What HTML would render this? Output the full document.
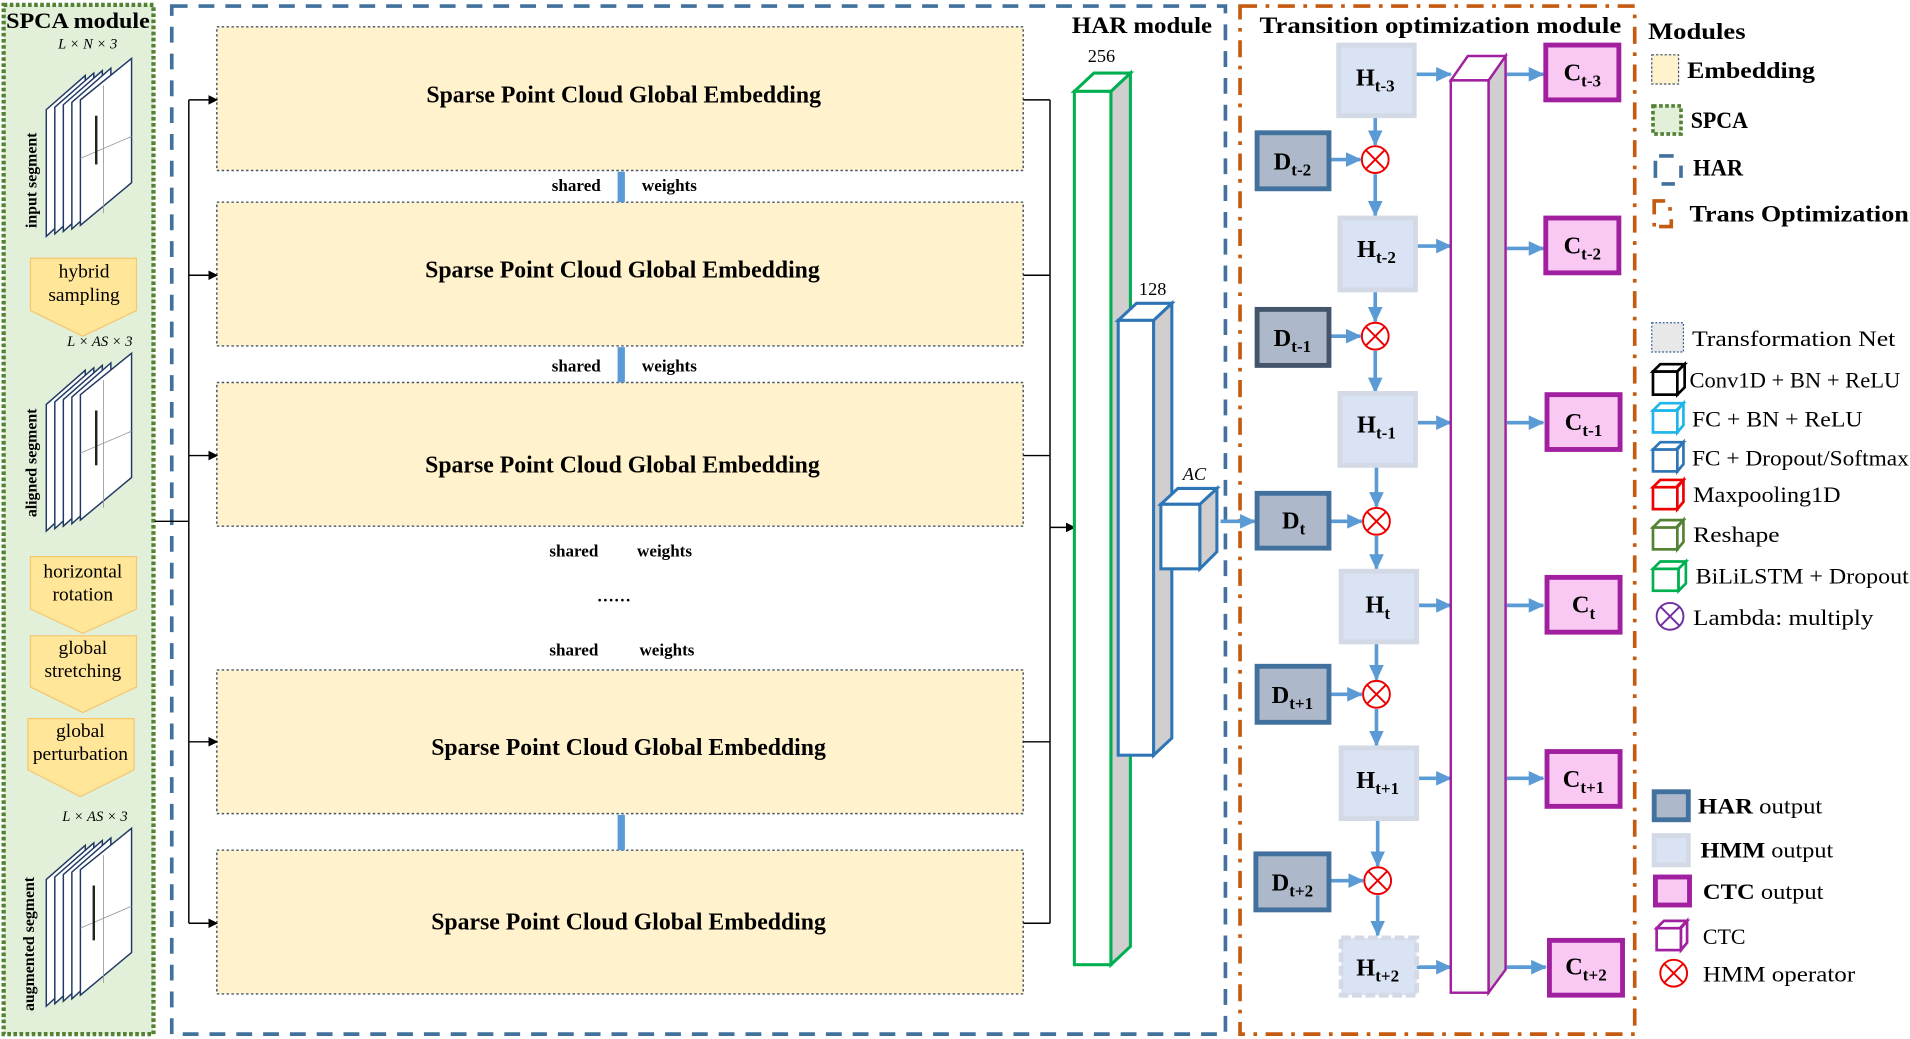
<!DOCTYPE html>
<html><head><meta charset="utf-8"><style>html,body{margin:0;padding:0;background:#fff;width:1910px;height:1039px;overflow:hidden}svg{display:block}text{font-family:"Liberation Serif",serif}</style></head><body>
<svg width="1910" height="1039" viewBox="0 0 1568 853" preserveAspectRatio="none" xmlns="http://www.w3.org/2000/svg">
<defs>
<marker id="ab" markerWidth="8" markerHeight="8" refX="7" refY="4" orient="auto" markerUnits="userSpaceOnUse"><path d="M0,0 L8,4 L0,8z" fill="#000"/></marker>
<marker id="abl" markerWidth="14" markerHeight="12" refX="12" refY="6" orient="auto" markerUnits="userSpaceOnUse"><path d="M0,0 L13,6 L0,12z" fill="#5b9bd5"/></marker>
<g id="ox"><circle cx="0" cy="0" r="11"/><line x1="-7.8" y1="-7.8" x2="7.8" y2="7.8"/><line x1="-7.8" y1="7.8" x2="7.8" y2="-7.8"/></g>
<g id="stk">
<polygon points="38,90 70,62 70,165 38,194"/>
<polygon points="45,88 77,60 77,163 45,192"/>
<polygon points="52,86 84,58 84,161 52,190"/>
<polygon points="59,84 91,56 91,159 59,188"/>
<polygon points="66,82 108,48 108,150 66,185"/>
</g>
</defs>
<!-- SPCA -->
<rect x="3" y="4" width="123" height="845" fill="#e2efd9" stroke="#548235" stroke-width="3.5" stroke-dasharray="3,2"/>
<text x="5" y="23" font-size="18" font-weight="bold" textLength="118" lengthAdjust="spacingAndGlyphs">SPCA module</text>
<g fill="#fff" stroke="#1f3864" stroke-width="1.2">
<use href="#stk"/>
<use href="#stk" y="242"/>
<use href="#stk" y="632"/>
</g>
<g stroke="#999" stroke-width="0.7" fill="none"><line x1="66" y1="130" x2="108" y2="112"/><line x1="85" y1="70" x2="85" y2="175"/><line x1="66" y1="372" x2="108" y2="354"/><line x1="85" y1="312" x2="85" y2="417"/><line x1="66" y1="762" x2="108" y2="744"/><line x1="85" y1="702" x2="85" y2="807"/></g>
<g fill="#222"><rect x="78" y="95" width="2" height="40"/><rect x="78" y="337" width="2" height="45"/><rect x="76" y="727" width="2" height="45"/></g>
<g font-size="12" font-style="italic" text-anchor="middle"><text x="72" y="40">L × N × 3</text><text x="82" y="284">L × AS × 3</text><text x="78" y="674">L × AS × 3</text></g>
<g font-size="13" font-weight="bold" text-anchor="middle"><text transform="translate(30,148) rotate(-90)">input segment</text><text transform="translate(30,380) rotate(-90)">aligned segment</text><text transform="translate(28,775) rotate(-90)">augmented segment</text></g>
<g fill="#ffe699" stroke="#f5c66b" stroke-width="1">
<polygon points="25,212 112,212 112,255 68,276 25,255"/>
<polygon points="25,457 112,457 112,500 68,520 25,500"/>
<polygon points="25,522 112,522 112,564 68,585 25,564"/>
<polygon points="23,590 110,590 110,632 66,654 23,632"/>
</g>
<g font-size="16" text-anchor="middle"><text x="69" y="228">hybrid</text><text x="69" y="247">sampling</text><text x="68" y="474">horizontal</text><text x="68" y="493">rotation</text><text x="68" y="537">global</text><text x="68" y="556">stretching</text><text x="66" y="605">global</text><text x="66" y="624">perturbation</text></g>
<!-- HAR -->
<rect x="141" y="5" width="865" height="844" fill="none" stroke="#41719c" stroke-width="3" stroke-dasharray="13,9"/>
<text x="880" y="27" font-size="19" font-weight="bold" textLength="115" lengthAdjust="spacingAndGlyphs">HAR module</text>
<g fill="#fff2cc" stroke="#44546a" stroke-width="1.2" stroke-dasharray="2,2">
<rect x="178" y="22" width="662" height="118"/><rect x="178" y="166" width="662" height="118"/><rect x="178" y="314" width="662" height="118"/><rect x="178" y="550" width="662" height="118"/><rect x="178" y="698" width="662" height="118"/>
</g>
<g font-size="19.5" font-weight="bold" text-anchor="middle"><text x="512" y="84">Sparse Point Cloud Global Embedding</text><text x="511" y="228">Sparse Point Cloud Global Embedding</text><text x="511" y="388">Sparse Point Cloud Global Embedding</text><text x="516" y="620">Sparse Point Cloud Global Embedding</text><text x="516" y="763">Sparse Point Cloud Global Embedding</text></g>
<g fill="#5b9bd5"><rect x="507" y="141" width="6" height="25"/><rect x="507" y="285" width="6" height="29"/><rect x="507" y="669" width="6" height="29"/></g>
<g font-size="14" font-weight="bold"><text x="453" y="157">shared</text><text x="527" y="157">weights</text><text x="453" y="305">shared</text><text x="527" y="305">weights</text><text x="451" y="457">shared</text><text x="523" y="457">weights</text><text x="451" y="538">shared</text><text x="525" y="538">weights</text><text x="490" y="494">……</text></g>
<g stroke="#000" stroke-width="1.2" fill="none">
<polyline points="127,428 155,428"/><line x1="155" y1="82" x2="155" y2="758"/>
<line x1="155" y1="82" x2="178" y2="82" marker-end="url(#ab)"/><line x1="155" y1="226" x2="178" y2="226" marker-end="url(#ab)"/><line x1="155" y1="374" x2="178" y2="374" marker-end="url(#ab)"/><line x1="155" y1="609" x2="178" y2="609" marker-end="url(#ab)"/><line x1="155" y1="758" x2="178" y2="758" marker-end="url(#ab)"/>
<polyline points="840,82 862,82"/><polyline points="840,226 862,226"/><polyline points="840,374 862,374"/><polyline points="840,609 862,609"/><polyline points="840,758 862,758"/>
<line x1="862" y1="82" x2="862" y2="758"/><line x1="862" y1="433" x2="882" y2="433" marker-end="url(#ab)"/>
</g>
<g stroke-width="2.5" stroke-linejoin="miter">
<polygon points="912,75 928,60 928,777 912,792" fill="#d0cece" stroke="#00b050"/>
<polygon points="882,75 898,60 928,60 912,75" fill="#fff" stroke="#00b050"/>
<rect x="882" y="75" width="30" height="717" fill="#fff" stroke="#00b050"/>
<polygon points="947,263 962,249 962,606 947,620" fill="#d0cece" stroke="#2e75b6"/>
<polygon points="918,263 933,249 962,249 947,263" fill="#fff" stroke="#2e75b6"/>
<rect x="918" y="263" width="29" height="357" fill="#fff" stroke="#2e75b6"/>
<polygon points="985,414 999,401 999,453 985,467" fill="#d0cece" stroke="#2e75b6"/>
<polygon points="953,414 967,401 999,401 985,414" fill="#fff" stroke="#2e75b6"/>
<rect x="953" y="414" width="32" height="53" fill="#fff" stroke="#2e75b6"/>
</g>
<g font-size="15"><text x="893" y="51">256</text><text x="935" y="242">128</text><text x="971" y="394" font-style="italic">AC</text></g>
<!-- Trans -->
<rect x="1018" y="5" width="324" height="844" fill="none" stroke="#c55a11" stroke-width="3" stroke-dasharray="14,7,3,7"/>
<text x="1034" y="27" font-size="19" font-weight="bold" textLength="297" lengthAdjust="spacingAndGlyphs">Transition optimization module</text>
<g stroke="#5b9bd5" stroke-width="3" fill="none">
<line x1="1002" y1="428" x2="1030" y2="428" marker-end="url(#abl)"/>
<line x1="1129" y1="95" x2="1129" y2="119" marker-end="url(#abl)"/><line x1="1129" y1="143" x2="1129" y2="177" marker-end="url(#abl)"/>
<line x1="1129" y1="238" x2="1129" y2="264" marker-end="url(#abl)"/><line x1="1129" y1="288" x2="1129" y2="322" marker-end="url(#abl)"/>
<line x1="1130" y1="382" x2="1130" y2="416" marker-end="url(#abl)"/><line x1="1130" y1="440" x2="1130" y2="467" marker-end="url(#abl)"/>
<line x1="1130" y1="527" x2="1130" y2="558" marker-end="url(#abl)"/><line x1="1130" y1="582" x2="1130" y2="612" marker-end="url(#abl)"/>
<line x1="1131" y1="672" x2="1131" y2="711" marker-end="url(#abl)"/><line x1="1131" y1="735" x2="1131" y2="768" marker-end="url(#abl)"/>
<line x1="1092" y1="131" x2="1117" y2="131" marker-end="url(#abl)"/><line x1="1092" y1="276" x2="1117" y2="276" marker-end="url(#abl)"/><line x1="1092" y1="428" x2="1118" y2="428" marker-end="url(#abl)"/><line x1="1092" y1="570" x2="1118" y2="570" marker-end="url(#abl)"/><line x1="1092" y1="723" x2="1119" y2="723" marker-end="url(#abl)"/>
<line x1="1162" y1="61" x2="1191" y2="61" marker-end="url(#abl)"/><line x1="1162" y1="202" x2="1191" y2="202" marker-end="url(#abl)"/><line x1="1163" y1="347" x2="1191" y2="347" marker-end="url(#abl)"/><line x1="1163" y1="497" x2="1191" y2="497" marker-end="url(#abl)"/><line x1="1163" y1="639" x2="1191" y2="639" marker-end="url(#abl)"/><line x1="1163" y1="794" x2="1191" y2="794" marker-end="url(#abl)"/>
<line x1="1237" y1="61" x2="1267" y2="61" marker-end="url(#abl)"/><line x1="1237" y1="204" x2="1267" y2="204" marker-end="url(#abl)"/><line x1="1237" y1="347" x2="1267" y2="347" marker-end="url(#abl)"/><line x1="1237" y1="497" x2="1267" y2="497" marker-end="url(#abl)"/><line x1="1237" y1="639" x2="1267" y2="639" marker-end="url(#abl)"/><line x1="1237" y1="794" x2="1269" y2="794" marker-end="url(#abl)"/>
</g>
<g stroke="#a020a0" stroke-width="2">
<polygon points="1222,66 1236,46 1236,796 1222,815" fill="#d0cece"/>
<polygon points="1191,66 1205,46 1236,46 1222,66" fill="#fff"/>
<rect x="1191" y="66" width="31" height="749" fill="#fff"/>
</g>
<g fill="#dae3f3" stroke="#d3dae6" stroke-width="4">
<rect x="1099" y="37" width="62" height="58"/><rect x="1100" y="179" width="62" height="59"/><rect x="1100" y="323" width="62" height="59"/><rect x="1101" y="469" width="62" height="58"/><rect x="1101" y="614" width="62" height="58"/>
<rect x="1101" y="770" width="62" height="47" stroke-dasharray="8,3"/>
</g>
<g fill="#adb9ca" stroke-width="4">
<rect x="1032" y="109" width="59" height="46" stroke="#41719c"/><rect x="1032" y="254" width="59" height="46" stroke="#44546a"/><rect x="1032" y="405" width="59" height="45" stroke="#41719c"/><rect x="1032" y="547" width="59" height="46" stroke="#41719c"/><rect x="1031" y="701" width="60" height="46" stroke="#41719c"/>
</g>
<g fill="#f9c9f4" stroke="#a020a0" stroke-width="4">
<rect x="1269" y="37" width="60" height="45"/><rect x="1269" y="179" width="60" height="45"/><rect x="1270" y="324" width="60" height="45"/><rect x="1270" y="474" width="60" height="45"/><rect x="1270" y="617" width="60" height="45"/><rect x="1272" y="772" width="60" height="45"/>
</g>
<g fill="#fff" stroke="#e00" stroke-width="1.6">
<use href="#ox" x="1129" y="131"/><use href="#ox" x="1129" y="276"/><use href="#ox" x="1130" y="428"/><use href="#ox" x="1130" y="570"/><use href="#ox" x="1131" y="723"/><use href="#ox" x="1374" y="799"/>
</g>
<g font-size="20" font-weight="bold" text-anchor="middle">
<text x="1129" y="70">H<tspan font-size="14" dy="5">t-3</tspan></text><text x="1130" y="211">H<tspan font-size="14" dy="5">t-2</tspan></text><text x="1130" y="355">H<tspan font-size="14" dy="5">t-1</tspan></text><text x="1131" y="503">H<tspan font-size="14" dy="5">t</tspan></text><text x="1131" y="647">H<tspan font-size="14" dy="5">t+1</tspan></text><text x="1131" y="801">H<tspan font-size="14" dy="5">t+2</tspan></text>
<text x="1061" y="139">D<tspan font-size="14" dy="5">t-2</tspan></text><text x="1061" y="284">D<tspan font-size="14" dy="5">t-1</tspan></text><text x="1062" y="434">D<tspan font-size="14" dy="5">t</tspan></text><text x="1061" y="577">D<tspan font-size="14" dy="5">t+1</tspan></text><text x="1061" y="731">D<tspan font-size="14" dy="5">t+2</tspan></text>
<text x="1299" y="66">C<tspan font-size="14" dy="5">t-3</tspan></text><text x="1299" y="208">C<tspan font-size="14" dy="5">t-2</tspan></text><text x="1300" y="353">C<tspan font-size="14" dy="5">t-1</tspan></text><text x="1300" y="503">C<tspan font-size="14" dy="5">t</tspan></text><text x="1300" y="646">C<tspan font-size="14" dy="5">t+1</tspan></text><text x="1302" y="800">C<tspan font-size="14" dy="5">t+2</tspan></text>
</g>
<!-- Legend -->
<g font-size="19" font-weight="bold"><text x="1353" y="32" textLength="80" lengthAdjust="spacingAndGlyphs">Modules</text><text x="1385" y="64" textLength="105" lengthAdjust="spacingAndGlyphs">Embedding</text><text x="1388" y="105" textLength="47" lengthAdjust="spacingAndGlyphs">SPCA</text><text x="1390" y="144" textLength="41" lengthAdjust="spacingAndGlyphs">HAR</text><text x="1387" y="182" textLength="180" lengthAdjust="spacingAndGlyphs">Trans Optimization</text></g>
<rect x="1356" y="45" width="22" height="24" fill="#fff2cc" stroke="#44546a" stroke-width="1" stroke-dasharray="2,1.5"/>
<rect x="1357" y="87" width="23" height="23" fill="#e2efd9" stroke="#548235" stroke-width="3" stroke-dasharray="3,2"/>
<path d="M1362,128 h12 M1359,132 v14 M1364,151 h11 M1380,136 v10" stroke="#41719c" stroke-width="3" fill="none"/>
<path d="M1358,176 v-11 h9 M1371,170 v3 M1372,180 v6 h-10 M1358,183 v3" stroke="#c55a11" stroke-width="3" fill="none"/>
<rect x="1356" y="265" width="26" height="24" fill="#e8e8e8" stroke="#2e5597" stroke-width="1" stroke-dasharray="1.5,1.5"/>
<g font-size="18"><text x="1389" y="284" textLength="167" lengthAdjust="spacingAndGlyphs">Transformation Net</text><text x="1387" y="318" textLength="173" lengthAdjust="spacingAndGlyphs">Conv1D + BN + ReLU</text><text x="1389" y="350" textLength="140" lengthAdjust="spacingAndGlyphs">FC + BN + ReLU</text><text x="1389" y="382" textLength="178" lengthAdjust="spacingAndGlyphs">FC + Dropout/Softmax</text><text x="1390" y="412" textLength="121" lengthAdjust="spacingAndGlyphs">Maxpooling1D</text><text x="1390" y="445" textLength="71" lengthAdjust="spacingAndGlyphs">Reshape</text><text x="1392" y="479" textLength="175" lengthAdjust="spacingAndGlyphs">BiLiLSTM + Dropout</text><text x="1390" y="513" textLength="148" lengthAdjust="spacingAndGlyphs">Lambda: multiply</text><text x="1398" y="775">CTC</text><text x="1398" y="806" textLength="125" lengthAdjust="spacingAndGlyphs">HMM operator</text></g>
<g font-size="18"><text x="1394" y="668" textLength="102" lengthAdjust="spacingAndGlyphs"><tspan font-weight="bold">HAR</tspan> output</text><text x="1396" y="704" textLength="109" lengthAdjust="spacingAndGlyphs"><tspan font-weight="bold">HMM</tspan> output</text><text x="1398" y="738" textLength="99" lengthAdjust="spacingAndGlyphs"><tspan font-weight="bold">CTC</tspan> output</text></g>
<g fill="#fff" stroke-width="2.2">
<g stroke="#000"><rect x="1357" y="305" width="20" height="19"/><polygon points="1357,305 1363,299 1383,299 1377,305"/><polygon points="1377,305 1383,299 1383,318 1377,324"/></g>
<g stroke="#1fb5ea"><rect x="1357" y="337" width="20" height="18"/><polygon points="1357,337 1363,331 1382,331 1376,337"/><polygon points="1377,337 1382,331 1382,349 1377,355"/></g>
<g stroke="#2e75b6"><rect x="1357" y="369" width="20" height="18"/><polygon points="1357,369 1363,363 1382,363 1376,369"/><polygon points="1377,369 1382,363 1382,381 1377,387"/></g>
<g stroke="#e00"><rect x="1357" y="400" width="20" height="18"/><polygon points="1357,400 1363,394 1382,394 1376,400"/><polygon points="1377,400 1382,394 1382,412 1377,418"/></g>
<g stroke="#548235"><rect x="1357" y="433" width="20" height="18"/><polygon points="1357,433 1363,427 1382,427 1376,433"/><polygon points="1377,433 1382,427 1382,445 1377,451"/></g>
<g stroke="#00b050"><rect x="1357" y="467" width="21" height="18"/><polygon points="1357,467 1363,461 1384,461 1378,467"/><polygon points="1378,467 1384,461 1384,479 1378,485"/></g>
<g stroke="#a020a0"><rect x="1360" y="762" width="20" height="18"/><polygon points="1360,762 1366,756 1385,756 1379,762"/><polygon points="1380,762 1385,756 1385,774 1380,780"/></g>
</g>
<g stroke="#7030a0" stroke-width="1.6" fill="#fff"><circle cx="1371" cy="506" r="11"/><line x1="1363" y1="498" x2="1379" y2="514"/><line x1="1363" y1="514" x2="1379" y2="498"/></g>
<rect x="1358" y="650" width="28" height="23" fill="#adb9ca" stroke="#41719c" stroke-width="4"/>
<rect x="1358" y="686" width="28" height="24" fill="#dae3f3" stroke="#d3dae6" stroke-width="4"/>
<rect x="1359" y="720" width="28" height="23" fill="#f9c9f4" stroke="#a020a0" stroke-width="4"/>
</svg>
</body></html>
